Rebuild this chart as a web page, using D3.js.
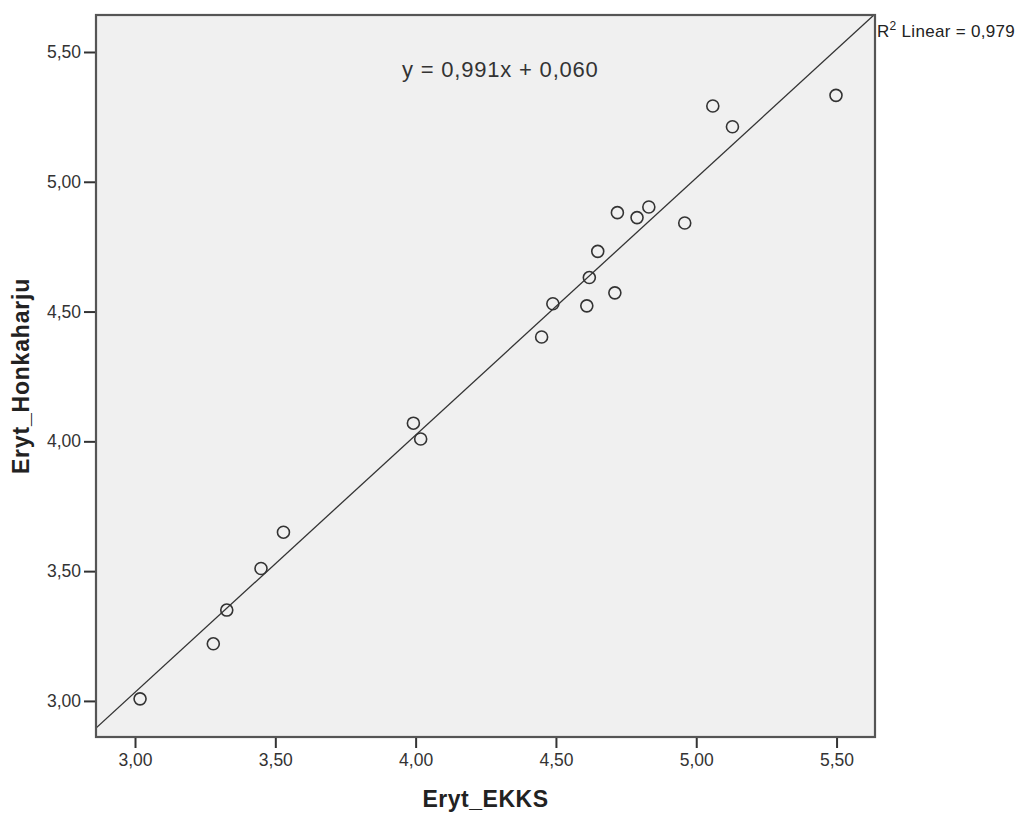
<!DOCTYPE html>
<html><head><meta charset="utf-8">
<script src="https://cdn.jsdelivr.net/npm/d3@7"></script>
<style>body{margin:0;background:#fff;} text{font-family:"Liberation Sans",Arial,sans-serif;}</style>
</head><body>
<svg id="c" width="1025" height="817"></svg>
<script>
const ekks = [3.018,3.279,3.327,3.449,3.529,3.992,4.018,4.449,4.489,4.610,4.619,4.649,4.710,4.719,4.789,4.831,4.959,5.059,5.129,5.498];
const honkaharju = [3.008,3.220,3.350,3.510,3.650,4.070,4.009,4.402,4.530,4.522,4.631,4.732,4.572,4.881,4.862,4.903,4.841,5.292,5.212,5.333];
const tickValues = [3.0,3.5,4.0,4.5,5.0,5.5];
const slope = 0.991, intercept = 0.060, r2 = "0,979";
const xTitle = "Eryt_EKKS", yTitle = "Eryt_Honkaharju";

const L=96, R=875, T=15, B=737;
const svg = d3.select("#c");
const x = d3.scaleLinear().domain([2.861,5.637]).range([L,R]);
const y = d3.scaleLinear().domain([2.861,5.6425]).range([B,T]);
const fmt = d => d3.format(".2f")(d).replace(".",",");

svg.append("rect").attr("x",L).attr("y",T).attr("width",R-L).attr("height",B-T).attr("fill","#f0f0f0");

svg.append("clipPath").attr("id","clip").append("rect").attr("x",L).attr("y",T).attr("width",R-L).attr("height",B-T);
const x0=x.domain()[0], x1=x.domain()[1];
svg.append("line").attr("clip-path","url(#clip)")
  .attr("x1",x(x0)).attr("y1",y(slope*x0+intercept))
  .attr("x2",x(x1)).attr("y2",y(slope*x1+intercept))
  .attr("stroke","#333").attr("stroke-width",1.3);

svg.append("g").selectAll("circle").data(ekks.map((v,i)=>[v,honkaharju[i]])).join("circle")
  .attr("cx",d=>x(d[0])).attr("cy",d=>y(d[1])).attr("r",6)
  .attr("fill","none").attr("stroke","#333").attr("stroke-width",1.6);

svg.append("rect").attr("x",L).attr("y",T).attr("width",R-L).attr("height",B-T)
  .attr("fill","none").attr("stroke","#555").attr("stroke-width",2.2);

const xa = svg.append("g").attr("transform",`translate(0,${B+1})`)
  .call(d3.axisBottom(x).tickValues(tickValues).tickFormat(fmt).tickSize(10).tickPadding(6));
const ya = svg.append("g").attr("transform",`translate(${L-1},0)`)
  .call(d3.axisLeft(y).tickValues(tickValues).tickFormat(fmt).tickSize(11).tickPadding(3));
[xa,ya].forEach(a=>{
  a.select(".domain").remove();
  a.selectAll(".tick line").attr("stroke","#333").attr("stroke-width",2);
  a.selectAll(".tick text").attr("fill","#333").style("font-size","17.5px").style("font-family","'Liberation Sans',Arial,sans-serif");
});

svg.append("text").attr("x",(L+R)/2).attr("y",807).attr("text-anchor","middle")
  .style("font-size","23px").style("font-weight","bold").style("letter-spacing","0.5px").attr("fill","#222").text(xTitle);
svg.append("text").attr("transform",`translate(29,${(T+B)/2}) rotate(-90)`).attr("text-anchor","middle")
  .style("font-size","23px").style("font-weight","bold").style("letter-spacing","0.8px").attr("fill","#222").text(yTitle);

svg.append("text").attr("x",402).attr("y",77).style("font-size","22px").style("letter-spacing","0.8px").attr("fill","#333")
  .text(`y = ${String(slope).replace(".",",")}x + ${intercept.toFixed(3).replace(".",",")}`);

const rt = svg.append("text").attr("x",877).attr("y",37).style("font-size","17px").style("letter-spacing","0.3px").attr("fill","#222");
rt.append("tspan").text("R");
rt.append("tspan").attr("dy",-7).style("font-size","12px").text("2");
rt.append("tspan").attr("dy",7).text(" Linear = "+r2);
</script>
</body></html>
